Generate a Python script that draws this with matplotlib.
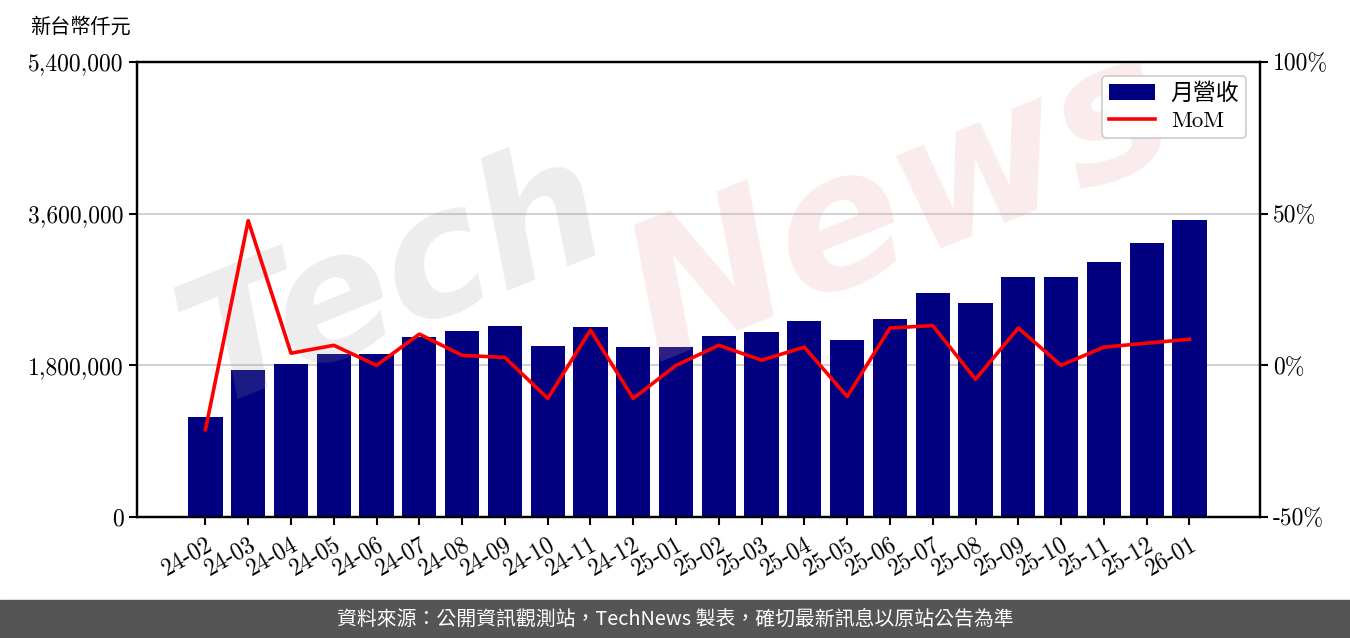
import matplotlib.pyplot as plt
from matplotlib.patches import Rectangle
from matplotlib.ticker import FuncFormatter

months = ['24-02', '24-03', '24-04', '24-05', '24-06', '24-07', '24-08', '24-09', '24-10', '24-11', '24-12', '25-01',
          '25-02', '25-03', '25-04', '25-05', '25-06', '25-07', '25-08', '25-09', '25-10', '25-11', '25-12', '26-01']

# monthly revenue, thousand NTD
revenue = [1187000, 1745000, 1816000, 1934000, 1934000, 2136000, 2207000, 2267000, 2029000, 2255000, 2018000, 2018000,
           2148000, 2196000, 2326000, 2101000, 2350000, 2658000, 2540000, 2848000, 2848000, 3026000, 3252000, 3525000]

# month over month change, %
mom = [-21.2, 47.7, 4.0, 6.6, 0.0, 10.3, 3.3, 2.6, -10.9, 11.6, -10.9, 0.0,
       6.6, 1.7, 6.0, -10.3, 12.3, 13.1, -4.6, 12.3, 0.0, 6.0, 7.3, 8.6]

left_ticks = [0, 1800000, 3600000, 5400000]
right_ticks = [-50, 0, 50, 100]

num_font = ['cmr10', 'Noto Sans CJK TC']
cjk_font = ['Noto Sans CJK TC', 'DejaVu Sans']


def setup_figure() -> tuple[plt.Figure, plt.Axes]:
    fig = plt.figure(figsize=(13.5, 6.38), dpi=100)
    ax = fig.add_axes([137 / 1350, 121 / 638, 1123 / 1350, 455 / 638])
    return fig, ax


def main() -> None:
    plt.rcParams['font.family'] = num_font
    plt.rcParams['axes.unicode_minus'] = False

    fig, ax = setup_figure()
    x = list(range(len(months)))

    ax.grid(axis='y', color='#d3d3d3', linewidth=1.5, zorder=0)
    bars = ax.bar(x, revenue, width=0.8, color='#000080', zorder=2, label='月營收')

    ax.set_ylim(left_ticks[0], left_ticks[-1])
    ax.set_yticks(left_ticks)
    ax.yaxis.set_major_formatter(FuncFormatter(lambda v, p: f'{v:,.0f}'))
    ax.set_xlim(-1.6, 24.65)
    ax.set_xticks(x)
    ax.set_xticklabels(months, rotation=30, ha='right', rotation_mode='anchor')
    ax.tick_params(axis='both', labelsize=17, width=1.5, length=6, color='black')
    ax.tick_params(axis='x', pad=6)

    ax2 = ax.twinx()
    line, = ax2.plot(x, mom, color='red', linewidth=2.6, zorder=3, label='MoM')
    ax2.set_ylim(right_ticks[0], right_ticks[-1])
    ax2.set_yticks(right_ticks)
    ax2.yaxis.set_major_formatter(FuncFormatter(lambda v, p: f'{v:.0f}%'))
    ax2.tick_params(axis='y', labelsize=17, width=1.5, length=6)

    for a in (ax, ax2):
        for spine in a.spines.values():
            spine.set_linewidth(1.6)

    # watermark
    ax2.text(0.23, 0.52, 'Tech', transform=ax.transAxes, fontsize=125, style='italic', fontweight='bold',
             family='DejaVu Sans', color='#9a9a9a', alpha=0.18, rotation=22, ha='center', va='center', zorder=1)
    ax2.text(0.68, 0.68, 'News', transform=ax.transAxes, fontsize=135, style='italic', fontweight='bold',
             family='DejaVu Sans', color='#e8a0a0', alpha=0.2, rotation=22, ha='center', va='center', zorder=1)

    leg = ax2.legend([bars, line], ['月營收', 'MoM'], loc='upper right',
                     prop={'family': num_font, 'size': 16.5}, framealpha=1, edgecolor='#cccccc',
                     borderpad=0.3, handlelength=2.0, handletextpad=0.7, labelspacing=0.3,
                     borderaxespad=0.6)
    leg.get_frame().set_linewidth(1.2)

    fig.text(30 / 1350, 1 - 27 / 638, '新台幣仟元', fontsize=14.5, family=num_font, va='center', ha='left')

    # footer
    fig.patches.append(Rectangle((0, 0), 1, 38 / 638, transform=fig.transFigure, color='#555555', zorder=0))
    fig.text(0.5, 19 / 638, '資料來源：公開資訊觀測站，TechNews 製表，確切最新訊息以原站公告為準',
             family=cjk_font, fontsize=14.3, color='white', ha='center', va='center')

    plt.savefig('out.png', dpi=100)
    plt.close()


if __name__ == '__main__':
    main()
